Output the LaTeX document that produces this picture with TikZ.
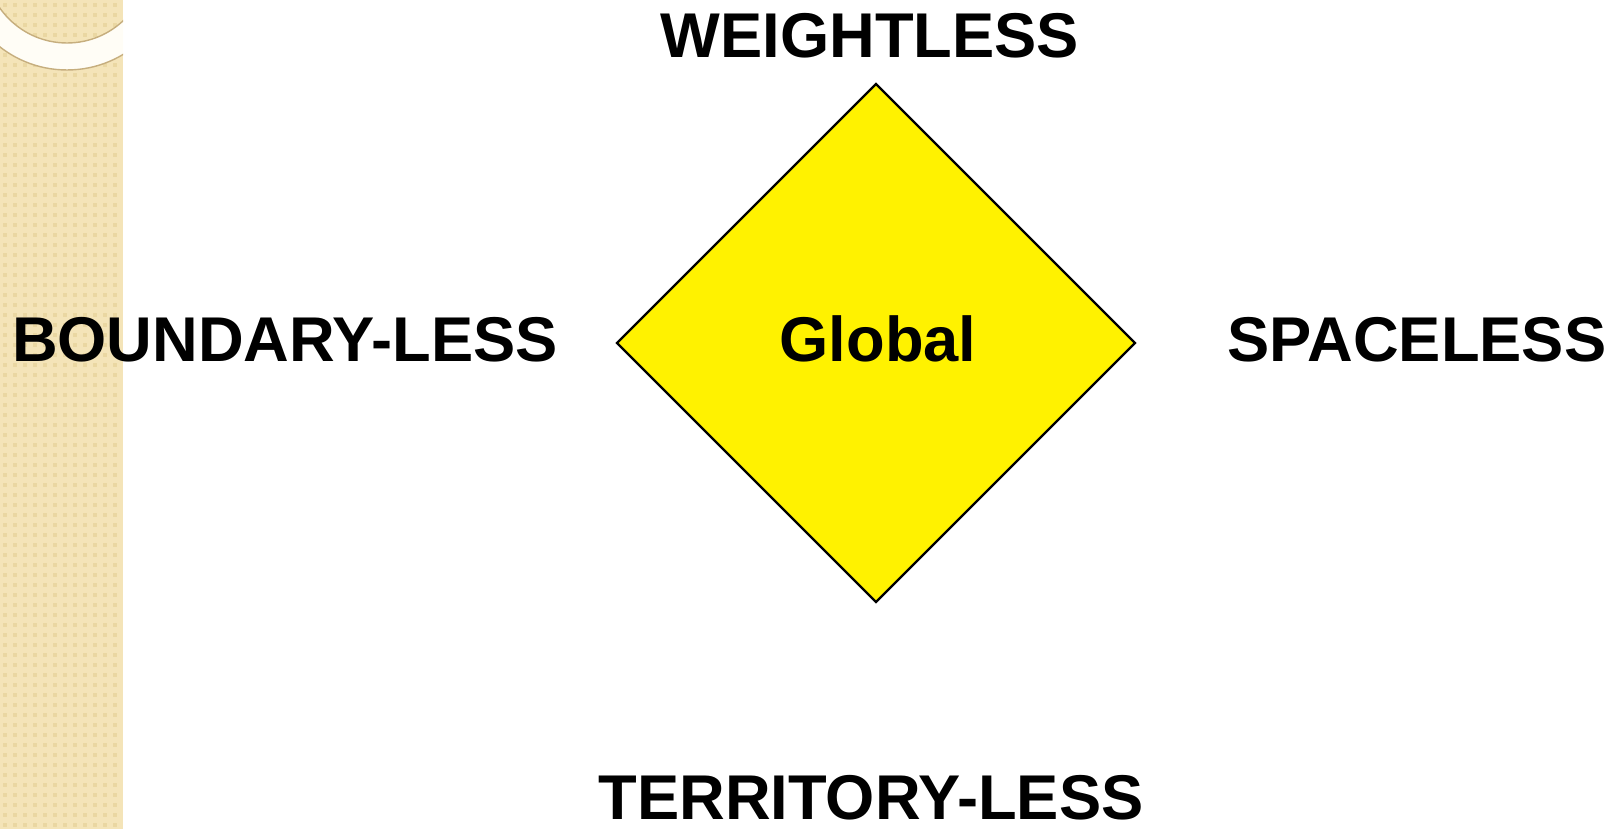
\documentclass[tikz,border=0pt]{standalone}
\usepackage{fontspec}
\setmainfont{Liberation Sans}
\usepackage{xcolor}
\usetikzlibrary{shapes.geometric}
\definecolor{stripfill}{HTML}{F4E4B8}
\definecolor{stripdot}{HTML}{EAD7A2}
\definecolor{ringedge}{HTML}{C6AE7E}
\definecolor{ringfill}{HTML}{FFFDF6}

\begin{document}
\begin{tikzpicture}[x=0.02cm, y=-0.02cm,
    word/.style={inner sep=0pt, anchor=base, font=\fontsize{36}{43}\selectfont\bfseries},
    gem/.style={diamond, draw=black, line width=1.3pt, fill=yellow, inner sep=0pt, minimum width=10.38cm, minimum height=10.38cm}]
    \useasboundingbox (0,0) rectangle (1618,829);

    % left strip
    \fill[stripfill] (0,0) rectangle (123,829);
    \foreach \i in {0,...,11}
      \foreach \j in {0,...,82}
        \fill[stripdot] (10*\i+3,10*\j+3) rectangle +(4,4);
    \begin{scope}
      \clip (0,0) rectangle (123,829);
      \draw[ringedge, fill=ringfill, even odd rule, line width=0.8pt]
        (67,-39) circle[radius=2.18cm] (67,-39) circle[radius=1.64cm];
    \end{scope}

    % diamond
    \node[gem] (hub) at (876,343) {};
    \node[word] (global) at (878,361) {Global};

    % labels
    \node[word] (top) at (870,57) {WEIGHTLESS};
    \node[word] (left) at (285,361) {BOUNDARY-LESS};
    \node[word] (right) at (1417,361) {SPACELESS};
    \node[word] (bottom) at (871,819) {TERRITORY-LESS};
\end{tikzpicture}
\end{document}
